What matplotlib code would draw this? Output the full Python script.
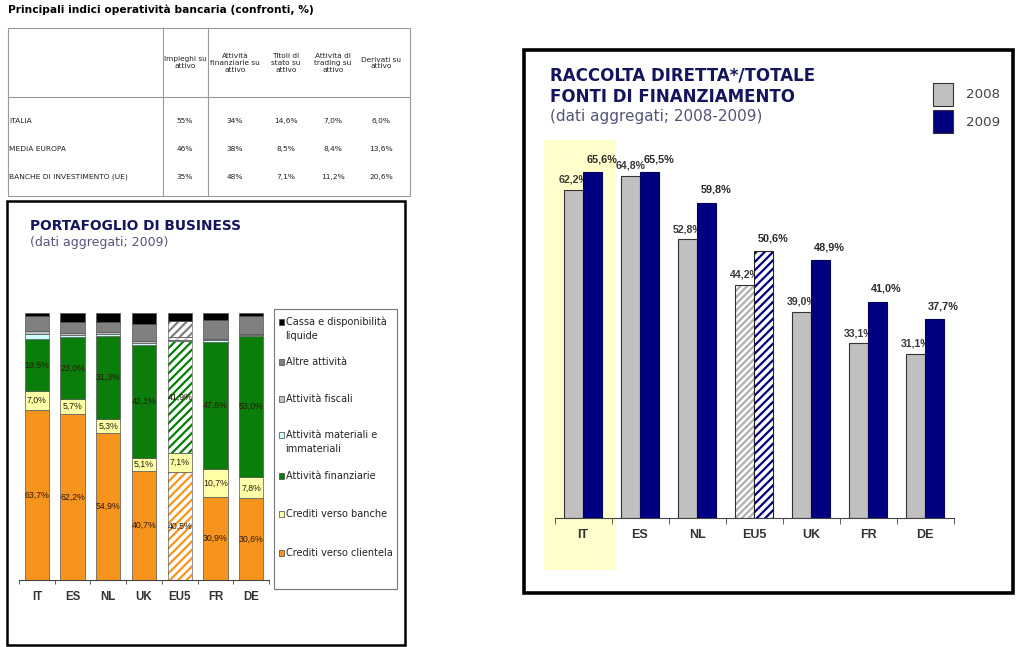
import matplotlib
matplotlib.use("Agg")
import matplotlib.pyplot as plt
from matplotlib.patches import Rectangle
from matplotlib.lines import Line2D
import numpy as np

plt.rcParams['font.family'] = ['DejaVu Sans']
plt.rcParams['hatch.linewidth'] = 1.6

# ---- table data ----
table_title = "Principali indici operatività bancaria (confronti, %)"
table_cols = ["Impieghi su\nattivo", "Attività\nfinanziarie su\nattivo", "Titoli di\nstato su\nattivo",
              "Attività di\ntrading su\nattivo", "Derivati su\nattivo"]
table_rows = ["ITALIA", "MEDIA EUROPA", "BANCHE DI INVESTIMENTO (UE)"]
table_vals = [["55%", "34%", "14,6%", "7,0%", "6,0%"],
              ["46%", "38%", "8,5%", "8,4%", "13,6%"],
              ["35%", "48%", "7,1%", "11,2%", "20,6%"]]

# ---- portafoglio di business (2009) ----
port_cats = ["IT", "ES", "NL", "UK", "EU5", "FR", "DE"]
clientela = [63.7, 62.2, 54.9, 40.7, 40.5, 30.9, 30.6]
banche = [7.0, 5.7, 5.3, 5.1, 7.1, 10.7, 7.8]
finanziarie = [19.5, 23.0, 31.3, 42.1, 41.9, 47.6, 53.0]
materiali = [2.0, 0.7, 0.6, 0.7, 0.3, 0.6, 0.3]
fiscali = [0.9, 0.9, 0.9, 0.8, 1.2, 0.6, 0.6]
altre = [5.7, 4.0, 3.8, 6.6, 6.0, 7.1, 6.5]
cassa = [1.2, 3.5, 3.2, 4.0, 3.0, 2.5, 1.2]
port_names = ["Crediti verso clientela", "Crediti verso banche", "Attività finanziarie",
              "Attività materiali e\nimmateriali", "Attività fiscali", "Altre attività",
              "Cassa e disponibilità\nliquide"]
port_colors = ["#F7941D", "#FFFFA8", "#0A7D0A", "#CCFFFF", "#C0C0C0", "#808080", "#000000"]

# ---- raccolta diretta ----
racc_cats = ["IT", "ES", "NL", "EU5", "UK", "FR", "DE"]
racc_2008 = [62.2, 64.8, 52.8, 44.2, 39.0, 33.1, 31.1]
racc_2009 = [65.6, 65.5, 59.8, 50.6, 48.9, 41.0, 37.7]

W, H = 1024, 647
fig = plt.figure(figsize=(W / 100, H / 100), dpi=100)


def fx(px):
    return px / W


def fy(py):
    return 1 - py / H


def pct(v):
    return f"{v:.1f}".replace(".", ",") + "%"


# ================= table =================
fig.text(fx(8), fy(10), table_title, fontsize=7.7, fontweight='bold', va='center', ha='left')
tc = '#9a9a9a'
fig.add_artist(Rectangle((fx(8), fy(196)), fx(410) - fx(8), fy(28) - fy(196),
                         transform=fig.transFigure, fill=False, edgecolor=tc, lw=0.8))
for xp in [163, 208]:
    fig.add_artist(Line2D([fx(xp), fx(xp)], [fy(28), fy(196)], transform=fig.transFigure, color=tc, lw=0.8))
fig.add_artist(Line2D([fx(8), fx(410)], [fy(97), fy(97)], transform=fig.transFigure, color=tc, lw=0.8))
col_x = [185, 235, 286, 333, 381]
for cx, lab in zip(col_x, table_cols):
    fig.text(fx(cx), fy(63), lab, fontsize=5.3, ha='center', va='center', linespacing=1.2, color='#222')
row_y = [121, 149, 177]
for ry, rlab, vals in zip(row_y, table_rows, table_vals):
    fig.text(fx(9), fy(ry), rlab, fontsize=5.4, ha='left', va='center', color='#222')
    for cx, v in zip(col_x, vals):
        fig.text(fx(cx), fy(ry), v, fontsize=5.4, ha='center', va='center', color='#222')

# ================= left panel =================
fig.add_artist(Rectangle((fx(7), fy(645)), fx(405) - fx(7), fy(201) - fy(645),
                         transform=fig.transFigure, fill=False, edgecolor='black', lw=1.8))
fig.text(fx(30), fy(226), "PORTAFOGLIO DI BUSINESS", fontsize=9.9, fontweight='bold',
         color='#15155e', va='center')
fig.text(fx(30), fy(243), "(dati aggregati; 2009)", fontsize=9, color='#55557a', va='center')

ax1 = fig.add_axes([fx(19), fy(580), fx(269) - fx(19), (580 - 313) / H])
x1 = np.arange(len(port_cats))
series = [clientela, banche, finanziarie, materiali, fiscali, altre, cassa]
bottom = np.zeros(len(port_cats))
bw1 = 0.68
eu_idx = port_cats.index("EU5")
for s, (vals, col) in enumerate(zip(series, port_colors)):
    vals = np.array(vals)
    for i in range(len(port_cats)):
        if i == eu_idx and s in (0, 2, 4, 5):
            ax1.bar(x1[i], vals[i], bw1, bottom=bottom[i], color='white', edgecolor=col,
                    hatch='////', lw=0)
            ax1.bar(x1[i], vals[i], bw1, bottom=bottom[i], fill=False, edgecolor='#666', lw=0.5)
        else:
            ax1.bar(x1[i], vals[i], bw1, bottom=bottom[i], color=col, edgecolor='#555', lw=0.5)
        if s < 3:
            ax1.text(x1[i], bottom[i] + vals[i] / 2, pct(vals[i]), ha='center', va='center',
                     fontsize=6.3, color='#2a1a0a', family='Liberation Sans')
    bottom += vals
ax1.set_xlim(-0.5, len(port_cats) - 0.5)
ax1.set_ylim(0, 100)
for sp in ['top', 'right', 'left']:
    ax1.spines[sp].set_visible(False)
ax1.spines['bottom'].set_color('#444')
ax1.set_yticks([])
ax1.set_xticks(x1)
ax1.set_xticklabels(port_cats, fontsize=8.3, fontweight='bold', color='#333', family='Liberation Sans')
ax1.tick_params(axis='x', which='major', length=0, pad=8)
ax1.set_xticks(np.arange(-0.5, len(port_cats)), minor=True)
ax1.tick_params(axis='x', which='minor', length=3, color='#444')
ax1.patch.set_alpha(0)

# legend (manual)
fig.add_artist(Rectangle((fx(274), fy(589)), fx(397) - fx(274), fy(309) - fy(589),
                         transform=fig.transFigure, fill=False, edgecolor='#777', lw=0.8))
leg_y = [553, 514, 476, 435, 399, 362, 322]
for name, col, ly in zip(port_names, port_colors, leg_y):
    fig.add_artist(Rectangle((fx(279), fy(ly + 3)), fx(5), 6 / H, transform=fig.transFigure,
                             facecolor=col, edgecolor='#444', lw=0.5))
    t = fig.text(fx(285.5), fy(ly), name, fontsize=7, va='center', color='#222', linespacing=1.5)
    if '\n' in name:
        t.set_va('top')
        t.set_position((fx(285.5), fy(ly - 5)))

# ================= right panel =================
fig.add_artist(Rectangle((fx(524), fy(593)), fx(1013) - fx(524), fy(50) - fy(593),
                         transform=fig.transFigure, fill=False, edgecolor='black', lw=2.6))
fig.text(fx(550), fy(76), "RACCOLTA DIRETTA*/TOTALE", fontsize=12, fontweight='bold',
         color='#15155e', va='center')
fig.text(fx(550), fy(97), "FONTI DI FINANZIAMENTO", fontsize=12, fontweight='bold',
         color='#15155e', va='center')
fig.text(fx(550), fy(116), "(dati aggregati; 2008-2009)", fontsize=11, color='#55557a', va='center')

# legend squares
fig.add_artist(Rectangle((fx(933), fy(106)), fx(20), 23 / H, transform=fig.transFigure,
                         facecolor='#C0C0C0', edgecolor='#333', lw=0.8))
fig.add_artist(Rectangle((fx(933), fy(133)), fx(20), 23 / H, transform=fig.transFigure,
                         facecolor='#000080', edgecolor='#333', lw=0.8))
fig.text(fx(966), fy(95), "2008", fontsize=9.6, color='#444', va='center')
fig.text(fx(966), fy(122), "2009", fontsize=9.6, color='#444', va='center')

ax2 = fig.add_axes([fx(554.5), fy(518), 399 / W, 369.25 / H])
x2 = np.arange(len(racc_cats))
bw2 = 0.335
it_idx = racc_cats.index("IT")
ax2.add_patch(Rectangle((x2[it_idx] - 0.68, -9.9), 1.26, 81.6, facecolor='#FFFFCC',
                        edgecolor='none', clip_on=False, zorder=0))
eu2 = racc_cats.index("EU5")
for i in range(len(racc_cats)):
    if i == eu2:
        ax2.bar(x2[i] - bw2 / 2, racc_2008[i], bw2, color='white', edgecolor='#b0b0b0',
                hatch='/////', lw=0, zorder=2)
        ax2.bar(x2[i] - bw2 / 2, racc_2008[i], bw2, fill=False, edgecolor='#333', lw=0.8, zorder=2)
        ax2.bar(x2[i] + bw2 / 2, racc_2009[i], bw2, color='white', edgecolor='#000080',
                hatch='////', lw=0, zorder=4)
        ax2.bar(x2[i] + bw2 / 2, racc_2009[i], bw2, fill=False, edgecolor='#222', lw=0.8, zorder=4)
    else:
        ax2.bar(x2[i] - bw2 / 2, racc_2008[i], bw2, color='#C0C0C0', edgecolor='#333', lw=0.8, zorder=2)
        ax2.bar(x2[i] + bw2 / 2, racc_2009[i], bw2, color='#000080', edgecolor='#000060', lw=0.8, zorder=4)
    ax2.text(x2[i] - bw2 / 2, racc_2008[i] + 1.0, pct(racc_2008[i]), ha='center', va='bottom',
             fontsize=7.6, fontweight='bold', color='#3a3a3a', family='Liberation Sans', zorder=3)
    ax2.text(x2[i] + bw2 / 2 + 0.16, racc_2009[i] + 1.5, pct(racc_2009[i]), ha='center', va='bottom',
             fontsize=7.8, fontweight='bold', color='#2a2a2a', family='Liberation Sans', zorder=5)
ax2.set_xlim(-0.5, len(racc_cats) - 0.5)
ax2.set_ylim(0, 70)
for sp in ['top', 'right', 'left']:
    ax2.spines[sp].set_visible(False)
ax2.spines['bottom'].set_color('#444')
ax2.spines['bottom'].set_zorder(6)
ax2.set_yticks([])
ax2.set_xticks(x2)
ax2.set_xticklabels(racc_cats, fontsize=9, fontweight='bold', color='#333', family='Liberation Sans')
ax2.tick_params(axis='x', which='major', length=0, pad=8)
ax2.set_xticks(np.arange(-0.5, len(racc_cats)), minor=True)
ax2.tick_params(axis='x', which='minor', length=4, color='#444')
ax2.patch.set_alpha(0)

fig.savefig("out.png", dpi=100)
